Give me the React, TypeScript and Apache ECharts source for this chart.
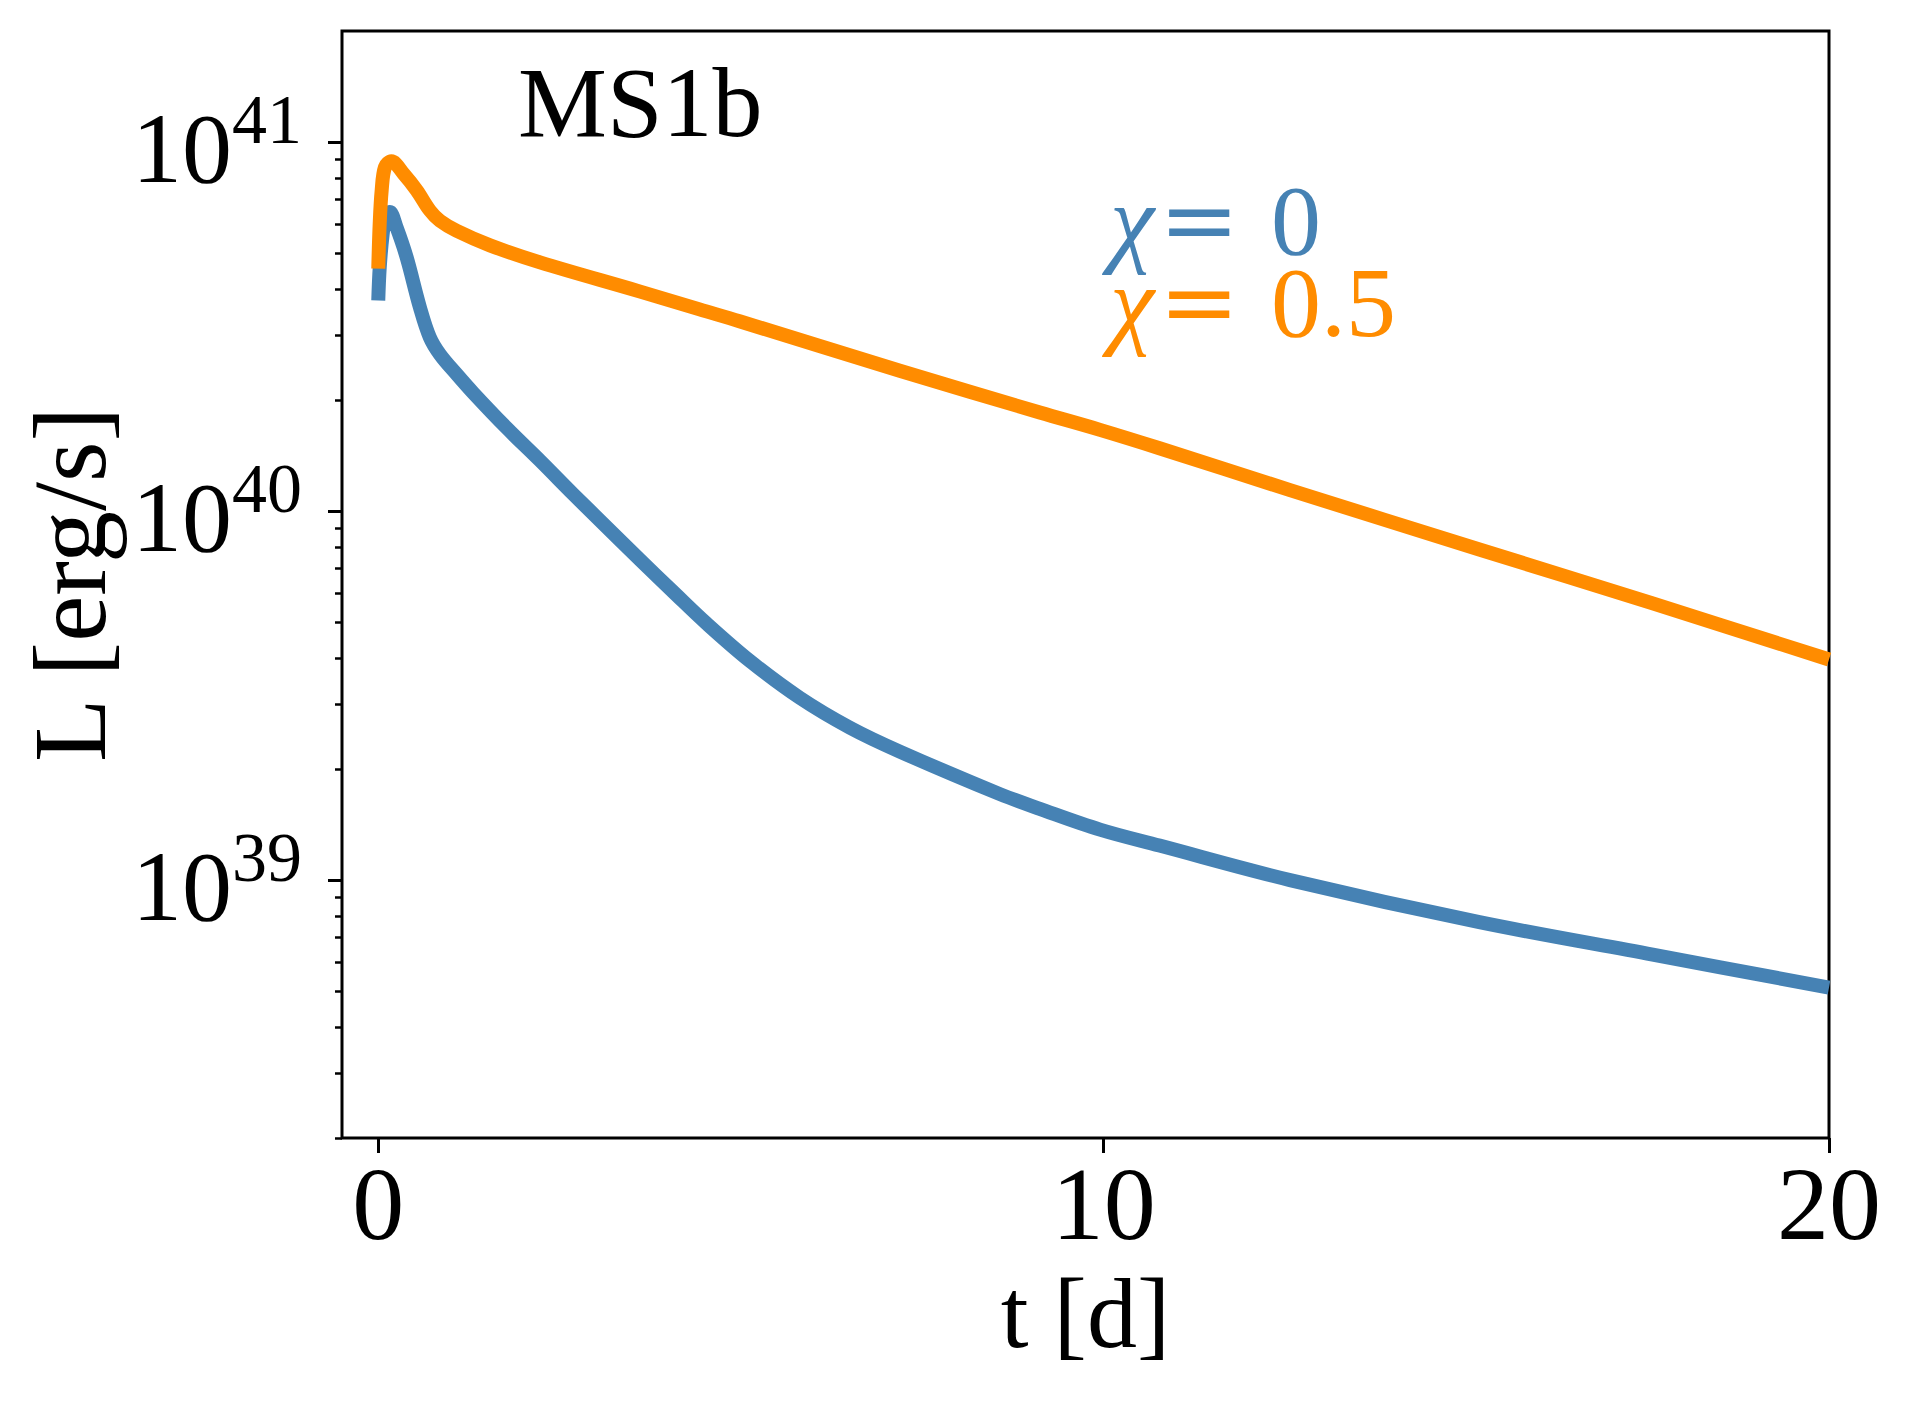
import React, { useEffect, useRef } from 'react';
import * as echarts from 'echarts';

// ---- data ----
const tBlue = [0, 0.02, 0.06, 0.1, 0.16, 0.25, 0.39, 0.575, 0.71, 0.85, 1.08, 1.31, 1.77, 2.23, 2.69, 3.15, 3.6, 4.07, 4.53, 5.12, 5.81, 6.5, 7.19, 8.57, 9.12, 9.95, 10.77, 12.57, 15.18, 17.57, 20];
const lBlue = [3.72e40, 4.57e40, 5.62e40, 6.24e40, 6.46e40, 5.89e40, 4.88e40, 3.56e40, 2.96e40, 2.66e40, 2.35e40, 2.09e40, 1.68e40, 1.37e40, 1.11e40, 9.04e39, 7.4e39, 6.03e39, 4.95e39, 3.93e39, 3.12e39, 2.59e39, 2.23e39, 1.71e39, 1.56e39, 1.37e39, 1.24e39, 1.0e39, 7.69e38, 6.28e38, 5.11e38];

const tOrange = [0, 0.02, 0.047, 0.092, 0.18, 0.35, 0.53, 0.71, 0.85, 1.08, 1.54, 2.23, 3.6, 4.43, 4.98, 7.19, 9.12, 9.95, 10.77, 12.57, 15.18, 17.57, 20];
const lOrange = [4.54e40, 6.03e40, 7.4e40, 8.55e40, 8.87e40, 8.2e40, 7.4e40, 6.53e40, 6.12e40, 5.75e40, 5.25e40, 4.72e40, 3.94e40, 3.52e40, 3.27e40, 2.4e40, 1.85e40, 1.66e40, 1.48e40, 1.14e40, 7.87e39, 5.62e39, 3.96e39];

const seriesNames = ['χ= 0', 'χ= 0.5'];
const xTicks = [0, 10, 20];
const yMajorTicks = [1e39, 1e40, 1e41];
const yMinorTicks = [
  2e38, 3e38, 4e38, 5e38, 6e38, 7e38, 8e38, 9e38,
  2e39, 3e39, 4e39, 5e39, 6e39, 7e39, 8e39, 9e39,
  2e40, 3e40, 4e40, 5e40, 6e40, 7e40, 8e40, 9e40,
  2e41,
];
const xRange = [-0.5, 20];
const yRange = [2e38, 2e41];
const titleText = 'MS1b';
const xName = 't [d]';
const yName = 'L [erg/s]';

const BLUE = '#4682B4';
const ORANGE = '#FF8C00';
const FF = "'Liberation Serif', 'DejaVu Serif', serif";
const FF_EQ = "'DejaVu Serif', 'Liberation Serif', serif";

export default function App() {
  const ref = useRef<HTMLDivElement>(null);

  useEffect(() => {
    document.body.style.margin = '0';
    if (!ref.current) return;
    const chart = echarts.init(ref.current, null, { renderer: 'svg' });

    const blueData = tBlue.map((t, i) => [t, lBlue[i]]);
    const orangeData = tOrange.map((t, i) => [t, lOrange[i]]);

    const tickLine = { color: '#000', width: 3 };
    const legendRich = (color: string) => ({
      fontFamily: FF,
      fontSize: 100,
      color,
      lineHeight: 82,
    });

    const option: any = {
      animation: false,
      backgroundColor: '#fff',
      title: {
        text: titleText,
        left: 518,
        top: 52,
        padding: 0,
        textStyle: { fontFamily: FF, fontSize: 100, fontWeight: 'normal', color: '#000' },
      },
      legend: {
        orient: 'vertical',
        left: 1104,
        top: 170,
        padding: 0,
        itemGap: -18,
        itemWidth: 0,
        itemHeight: 0,
        selectedMode: false,
        data: seriesNames,
        formatter: (name: string) =>
          name === seriesNames[0] ? '{ib|χ}{eb|=}{rb|0}' : '{io|χ}{eo|=}{ro|0.5}',
        textStyle: {
          fontFamily: FF,
          fontSize: 100,
          lineHeight: 82,
          rich: {
            ib: { ...legendRich(BLUE), fontStyle: 'italic', width: 49 },
            eb: { ...legendRich(BLUE), fontFamily: FF_EQ, fontSize: 96, width: 112 },
            rb: { ...legendRich(BLUE) },
            io: { ...legendRich(ORANGE), fontStyle: 'italic', width: 49 },
            eo: { ...legendRich(ORANGE), fontFamily: FF_EQ, fontSize: 96, width: 112 },
            ro: { ...legendRich(ORANGE) },
          },
        },
      },
      grid: {
        left: 342,
        right: 77,
        top: 31,
        bottom: 272,
        show: true,
        borderColor: '#000',
        borderWidth: 3,
        backgroundColor: 'transparent',
        containLabel: false,
      },
      xAxis: {
        type: 'value',
        min: xRange[0],
        max: xRange[1],
        axisLine: { show: false, onZero: false },
        splitLine: { show: false },
        axisTick: { customValues: xTicks, length: 15, lineStyle: tickLine },
        axisLabel: {
          customValues: xTicks,
          fontFamily: FF,
          fontSize: 104,
          color: '#000',
          margin: 13,
        },
        name: xName,
        nameLocation: 'middle',
        nameGap: 125,
        nameTextStyle: { fontFamily: FF, fontSize: 100, color: '#000' },
      },
      yAxis: [
        {
          type: 'log',
          logBase: 10,
          min: yRange[0],
          max: yRange[1],
          position: 'left',
          axisLine: { show: false, onZero: false },
          splitLine: { show: false },
          minorTick: { show: false },
          axisTick: { customValues: yMajorTicks, length: 14, lineStyle: tickLine },
          axisLabel: {
            customValues: yMajorTicks,
            margin: 40,
            padding: [0, 0, 2, 0],
            formatter: (v: number) => '{b|10}{s|' + Math.round(Math.log10(v)) + '}',
            rich: {
              b: { fontFamily: FF, fontSize: 100, color: '#000', lineHeight: 114, verticalAlign: 'bottom' },
              s: { fontFamily: FF, fontSize: 70, color: '#000', lineHeight: 70, verticalAlign: 'top' },
            },
          },
          name: yName,
          nameLocation: 'middle',
          nameRotate: 90,
          nameGap: 212,
          nameTextStyle: { fontFamily: FF, fontSize: 104, color: '#000' },
        },
        {
          type: 'log',
          logBase: 10,
          min: yRange[0],
          max: yRange[1],
          position: 'left',
          offset: 0,
          axisLine: { show: false, onZero: false },
          splitLine: { show: false },
          axisTick: { customValues: yMinorTicks, length: 7, lineStyle: { color: '#000', width: 2.5 } },
          axisLabel: { show: false },
        },
      ],
      series: [
        {
          type: 'line',
          name: seriesNames[0],
          yAxisIndex: 0,
          data: blueData,
          showSymbol: false,
          symbol: 'none',
          smooth: 0.35,
          lineStyle: { color: BLUE, width: 14, cap: 'butt', join: 'round' },
          itemStyle: { color: BLUE },
        },
        {
          type: 'line',
          name: seriesNames[1],
          yAxisIndex: 0,
          data: orangeData,
          showSymbol: false,
          symbol: 'none',
          smooth: 0.35,
          lineStyle: { color: ORANGE, width: 14, cap: 'butt', join: 'round' },
          itemStyle: { color: ORANGE },
        },
      ],
    };

    chart.setOption(option);
    return () => chart.dispose();
  }, []);

  return <div ref={ref} style={{ width: '1906px', height: '1410px' }} />;
}
